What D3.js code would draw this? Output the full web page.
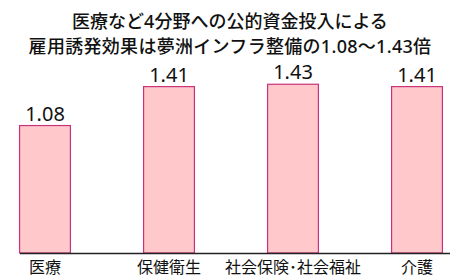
<!DOCTYPE html>
<html>
<head>
<meta charset="utf-8">
<script src="https://cdn.jsdelivr.net/npm/d3@7"></script>
<style>
  body { margin: 0; background: #fff; }
  text { font-family: "Noto Sans", "Noto Sans CJK JP", sans-serif; fill: #111; }
</style>
</head>
<body>
<svg></svg>
<script>
var categories = ["医療", "保健衛生", "社会保険･社会福祉", "介護"];
var values = [1.08, 1.41, 1.43, 1.41];
var titleLines = [
  "医療など4分野への公的資金投入による",
  "雇用誘発効果は夢洲インフラ整備の1.08～1.43倍"
];

var width = 450;
var height = 278;
var baseline = 253;

var svg = d3.select("svg").attr("width", width).attr("height", height);

// title
svg.selectAll(".title")
  .data(titleLines)
  .enter()
  .append("text")
  .attr("class", "title")
  .attr("x", width / 2 + 5)
  .attr("y", (d, i) => 28 + i * 25)
  .attr("text-anchor", "middle")
  .style("font-size", "18px")
  .style("font-weight", 500)
  .style("letter-spacing", (d, i) => (i === 1 ? "0.3px" : "0px"))
  .text((d) => d);

var xScale = d3.scaleBand()
  .domain(categories)
  .range([-17, 479])
  .paddingInner(0.59)
  .paddingOuter(0.295);

var yScale = d3.scaleLinear()
  .domain([0, 1])
  .range([baseline, baseline - 118]);

// bars
svg.selectAll(".bar")
  .data(values)
  .enter()
  .append("rect")
  .attr("class", "bar")
  .attr("x", (d, i) => xScale(categories[i]))
  .attr("y", (d) => yScale(d))
  .attr("width", xScale.bandwidth())
  .attr("height", (d) => baseline - yScale(d))
  .attr("fill", "#ffc9cc")
  .attr("stroke", "#c8327a")
  .attr("stroke-width", 1.2);

// value labels
svg.selectAll(".val")
  .data(values)
  .enter()
  .append("text")
  .attr("class", "val")
  .attr("x", (d, i) => xScale(categories[i]) + xScale.bandwidth() / 2)
  .attr("y", (d) => yScale(d) - 5)
  .attr("text-anchor", "middle")
  .style("font-size", "20px")
  .text((d) => d.toFixed(2));

// axis
var xAxis = d3.axisBottom(xScale).tickSize(0).tickPadding(9);
var gx = svg.append("g")
  .attr("transform", "translate(0," + baseline + ")")
  .call(xAxis);
gx.select(".domain").attr("d", "M20,0.5H450").attr("stroke", "#222").attr("stroke-width", 1.5);
gx.selectAll(".tick text")
  .style("font-size", "16px")
  .style("font-family", '"Noto Sans CJK JP", sans-serif')
  .attr("fill", "#111");
</script>
</body>
</html>
